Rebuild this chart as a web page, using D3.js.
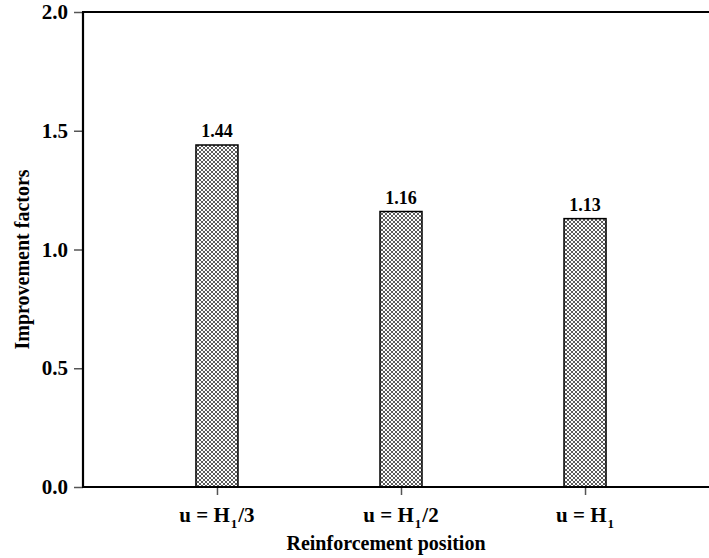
<!DOCTYPE html>
<html>
<head>
<meta charset="utf-8">
<script src="https://cdn.jsdelivr.net/npm/d3@7"></script>
<style>
  html, body { margin: 0; padding: 0; background: #fff; }
  svg { display: block; font-family: "Liberation Serif", "Times New Roman", serif; }
</style>
</head>
<body>
<div id="chart"></div>
<script>
// Reinforcement position categories (label base, subscript, suffix)
const categories = ["H1/3", "H1/2", "H1"];
const labelParts = [["u = H", "1", "/3"], ["u = H", "1", "/2"], ["u = H", "1", ""]];
const improvement = [1.44, 1.16, 1.13];
const yTicks = [0, 0.5, 1.0, 1.5, 2.0];

const W = 709, H = 558;
const margin = { left: 83, top: 12, bottom: 71 };
const plotRight = 719; // plot frame runs past the right edge of the view

const svg = d3.select("#chart").append("svg")
  .attr("width", W).attr("height", H);

// cross-hatch fill for the bars
const defs = svg.append("defs");
const pat = defs.append("pattern")
  .attr("id", "xhatch")
  .attr("patternUnits", "userSpaceOnUse")
  .attr("width", 4).attr("height", 4);
pat.append("rect").attr("width", 4).attr("height", 4).attr("fill", "#ffffff");
pat.append("path")
  .attr("d", "M0,0 L4,4 M4,0 L0,4 M-1,1 L1,-1 M3,5 L5,3 M-1,3 L1,5 M3,-1 L5,1")
  .attr("stroke", "#333").attr("stroke-width", 0.8).attr("fill", "none");

const y = d3.scaleLinear().domain([0, 2]).range([H - margin.bottom, margin.top]);
const x = d3.scalePoint().domain(categories)
  .range([margin.left, plotRight]).padding(0.728);
const barW = 42;

// bars
svg.append("g").selectAll("rect")
  .data(categories)
  .join("rect")
  .attr("x", (d) => x(d) - barW / 2)
  .attr("y", (d, i) => y(improvement[i]))
  .attr("width", barW)
  .attr("height", (d, i) => y(0) - y(improvement[i]))
  .attr("fill", "url(#xhatch)")
  .attr("stroke", "#000")
  .attr("stroke-width", 1.5);

// value labels
svg.append("g").selectAll("text")
  .data(categories)
  .join("text")
  .attr("x", (d) => x(d))
  .attr("y", (d, i) => y(improvement[i]) - 8)
  .attr("text-anchor", "middle")
  .attr("font-weight", "bold")
  .attr("font-size", 18)
  .text((d, i) => improvement[i].toFixed(2));

// y axis
const yAxis = svg.append("g")
  .attr("transform", `translate(${margin.left},0)`)
  .call(d3.axisLeft(y).tickValues(yTicks).tickFormat(d3.format(".1f")).tickSize(9).tickPadding(6));
yAxis.select(".domain").remove();
yAxis.selectAll(".tick line").attr("stroke", "#555").attr("stroke-width", 1.5);
yAxis.selectAll(".tick text")
  .attr("font-family", "Liberation Serif, serif")
  .attr("font-weight", "bold").attr("font-size", 21).attr("fill", "#000");

// x axis ticks
const xAxis = svg.append("g")
  .attr("transform", `translate(0,${y(0)})`)
  .call(d3.axisBottom(x).tickSize(8).tickFormat(""));
xAxis.select(".domain").remove();
xAxis.selectAll(".tick line").attr("stroke", "#555").attr("stroke-width", 1.5);

// x tick labels with subscript
const xl = svg.append("g").selectAll("text")
  .data(categories)
  .join("text")
  .attr("x", (d) => x(d))
  .attr("y", y(0) + 35)
  .attr("text-anchor", "middle")
  .attr("font-weight", "bold")
  .attr("font-size", 21);
xl.each(function (d, i) {
  const t = d3.select(this);
  const p = labelParts[i];
  t.append("tspan").text(p[0]);
  t.append("tspan").attr("font-size", 13).attr("dx", 1).attr("dy", 6).text(p[1]);
  if (p[2]) t.append("tspan").attr("dx", 1).attr("dy", -6).text(p[2]);
});

// frame: left, top, bottom
const frame = svg.append("g").attr("stroke", "#000").attr("stroke-width", 2.2).attr("fill", "none");
frame.append("line").attr("x1", margin.left).attr("x2", margin.left).attr("y1", y(2)).attr("y2", y(0));
frame.append("line").attr("x1", margin.left - 1).attr("x2", plotRight).attr("y1", y(2)).attr("y2", y(2));
frame.append("line").attr("x1", margin.left - 1).attr("x2", plotRight).attr("y1", y(0)).attr("y2", y(0));

// axis titles
svg.append("text")
  .attr("x", 386)
  .attr("y", 550)
  .attr("text-anchor", "middle")
  .attr("font-weight", "bold").attr("font-size", 20)
  .text("Reinforcement position");

svg.append("text")
  .attr("transform", `translate(29,${(y(0) + y(2)) / 2 + 10}) rotate(-90)`)
  .attr("text-anchor", "middle")
  .attr("font-weight", "bold").attr("font-size", 20)
  .text("Improvement factors");
</script>
</body>
</html>
